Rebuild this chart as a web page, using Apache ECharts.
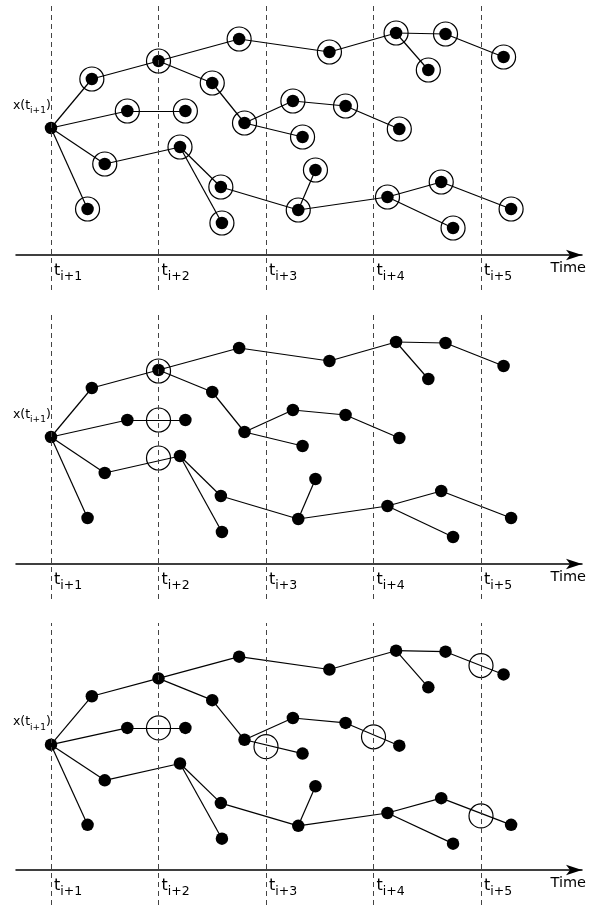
<!DOCTYPE html>
<html><head><meta charset="utf-8">
<script src="https://cdn.jsdelivr.net/npm/echarts@6/dist/echarts.min.js"></script>
<style>html,body{margin:0;padding:0;background:#fff}#c{width:602px;height:905px}</style>
</head><body><div id="c"></div>
<script>
// Tree of sampled states x(t) over time (time in units of t_i, state in arbitrary units)
const nodeNames = ['root','A','B','C','D','E','F','G','H','I','J','K','L','M','N','O','P','Q','R','S','T','U','V','W','X','Y','Z','AA'];
const nodeTime  = [1.00,1.38,1.71,1.50,1.34,2.00,2.25,2.20,2.75,2.50,2.80,2.58,2.59,3.25,3.34,3.46,3.30,3.59,4.21,4.67,4.51,5.21,3.74,4.24,4.13,4.63,5.28,4.74];
const nodeState = [12.7,17.6,14.4,9.1,4.6,19.4,14.4,10.8,21.6,17.2,13.2,6.8,3.2,15.4,11.8,8.5,4.5,20.3,22.2,22.1,18.5,19.8,14.9,12.6,5.8,7.3,4.6,2.7];
const edges = [['root','A'],['root','B'],['root','C'],['root','D'],['A','E'],['B','F'],['C','G'],
  ['E','H'],['E','I'],['H','Q'],['Q','R'],['R','S'],['R','T'],['S','U'],['I','J'],['J','M'],['J','N'],
  ['M','V'],['V','W'],['G','K'],['G','L'],['K','P'],['P','O'],['P','X'],['X','Y'],['X','AA'],['Y','Z']];
const rootLabel = ['x(t', 'i+1', ')'];
const timeTicks = [1, 2, 3, 4, 5];
const tickSubs = ['i+1', 'i+2', 'i+3', 'i+4', 'i+5'];
const axisName = 'Time';
// hollow circles of panels 2 and 3: [time, state]
const panel2Circles = [[2.0, 19.3], [2.0, 14.4], [2.0, 10.6]];
const panel3Circles = [[2.0, 14.4], [3.0, 12.5], [4.0, 13.5], [5.0, 20.7], [5.0, 5.5]];

const panelTops = [5, 314, 623];
const FONT = 'DejaVu Sans';

const chart = echarts.init(document.getElementById('c'), null, {renderer: 'canvas'});

const grids = [], xAxes = [], yAxes = [], series = [];
panelTops.forEach((top, p) => {
  grids.push({left: 16, right: 20, top: top, height: 285, containLabel: false});
  xAxes.push({
    type: 'value', gridIndex: p, min: 0.6744, max: 5.9395,
    position: 'bottom', offset: -35,
    axisLine: {show: true, onZero: false, symbol: ['none', 'arrow'], symbolSize: [8, 16],
      lineStyle: {color: '#000', width: 1.5}},
    axisTick: {show: false}, splitLine: {show: false},
    axisLabel: {
      customValues: timeTicks, align: 'left', margin: 8, padding: [0, 0, 0, 3],
      formatter: v => '{t|t}{s|' + tickSubs[timeTicks.indexOf(Math.round(v))] + '}',
      rich: {
        t: {fontFamily: FONT, fontSize: 16, color: '#000', verticalAlign: 'bottom', padding: [0, 0, 4, 0]},
        s: {fontFamily: FONT, fontSize: 12.5, color: '#000', verticalAlign: 'bottom'}
      }
    },
    name: axisName, nameLocation: 'end', nameGap: 4,
    nameTextStyle: {fontFamily: FONT, fontSize: 14.5, color: '#000', align: 'right', verticalAlign: 'top', padding: [6, 0, 0, 0]}
  });
  yAxes.push({type: 'value', gridIndex: p, min: -3.5, max: 25, show: false});

  series.push({
    type: 'scatter', xAxisIndex: p, yAxisIndex: p, data: [], z: 1, silent: true,
    markLine: {
      silent: true, symbol: ['none', 'none'], label: {show: false},
      lineStyle: {color: '#444', width: 1, type: [5, 4]},
      data: timeTicks.map(t => ({xAxis: t}))
    }
  });

  series.push({
    type: 'graph', coordinateSystem: 'cartesian2d', xAxisIndex: p, yAxisIndex: p, z: 2,
    layout: 'none', symbol: 'circle', symbolSize: 12.5, silent: true,
    itemStyle: {color: '#000'},
    lineStyle: {color: '#000', width: 1.2, opacity: 1, curveness: 0},
    emphasis: {disabled: true},
    data: nodeNames.map((n, i) => {
      const d = {name: n, value: [nodeTime[i], nodeState[i]]};
      if (n === 'root') {
        d.label = {
          show: true, position: 'left', distance: 0, offset: [6, -21],
          formatter: '{a|' + rootLabel[0] + '}{s|' + rootLabel[1] + '}{a|' + rootLabel[2] + '}',
          rich: {
            a: {fontFamily: FONT, fontSize: 12.5, color: '#000', verticalAlign: 'bottom', padding: [0, 0, 3, 0]},
            s: {fontFamily: FONT, fontSize: 9, color: '#000', verticalAlign: 'bottom'}
          }
        };
      }
      return d;
    }),
    links: edges.map(e => ({source: e[0], target: e[1]}))
  });

  let circles;
  if (p === 0) circles = nodeNames.map((n, i) => [nodeTime[i], nodeState[i]]).filter((_, i) => nodeNames[i] !== 'root');
  else if (p === 1) circles = panel2Circles;
  else circles = panel3Circles;
  series.push({
    type: 'scatter', xAxisIndex: p, yAxisIndex: p, z: 3, silent: true,
    symbol: 'circle', symbolSize: 24,
    itemStyle: {color: 'rgba(0,0,0,0)', borderColor: '#000', borderWidth: 1.2, opacity: 1},
    data: circles
  });
});

chart.setOption({
  backgroundColor: '#fff',
  animation: false,
  grid: grids, xAxis: xAxes, yAxis: yAxes, series: series
});
</script>
</body></html>
